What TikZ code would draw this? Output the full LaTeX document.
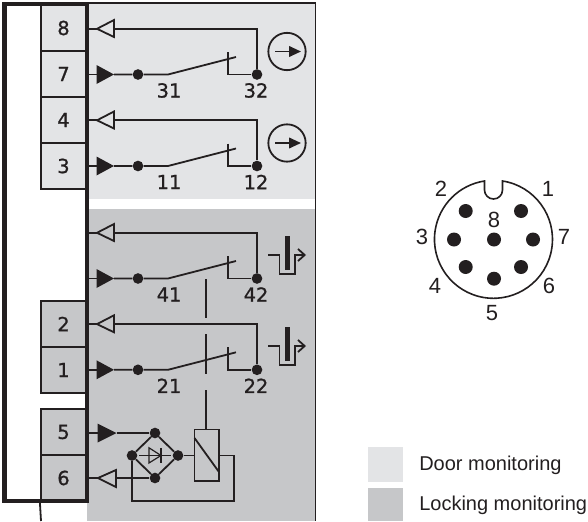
\documentclass[tikz,border=0pt]{standalone}
\usepackage{fontspec}
\setmainfont{Liberation Sans}
\newfontfamily\numfont[FakeBold=1]{DejaVu Sans}
\usetikzlibrary{arrows.meta}
\definecolor{inkc}{HTML}{231F20}
\definecolor{doorc}{HTML}{E3E4E6}
\definecolor{lockc}{HTML}{C6C7C9}
\tikzset{
  wire/.style={draw=inkc,line width=1.35pt},
  frameline/.style={draw=inkc,line width=3.5pt,line join=miter},
  terminal/.style={draw=inkc,line width=1.35pt,minimum width=34.1pt,minimum height=34.4pt,inner sep=0pt,text=inkc,font=\numfont\fontsize{14.5}{16}\selectfont},
  wiredot/.style={circle,fill=inkc,minimum size=8pt,inner sep=0pt},
  pindot/.style={circle,fill=inkc,minimum size=10.5pt,inner sep=0pt},
  contactlabel/.style={text=inkc,inner sep=0pt,font=\numfont\fontsize{14.5}{16}\selectfont},
  pinlabel/.style={text=inkc,inner sep=0pt,font=\fontsize{16.5}{18}\selectfont},
  legendlabel/.style={text=inkc,anchor=west,inner sep=0pt,font=\fontsize{15}{18}\selectfont},
  dirring/.style={circle,draw=inkc,line width=1.35pt,minimum size=28pt,inner sep=0pt}
}
\begin{document}
\begin{tikzpicture}[x=0.75pt,y=0.75pt,yscale=-1,xscale=1]
\useasboundingbox (0,0) rectangle (588,521);

% Panels
\fill[doorc] (87,3) rectangle (315.5,199);
\fill[lockc] (87,209) rectangle (315.5,521);
\draw[wire] (87,3) -- (315.5,3) -- (315.5,521);

% Terminals
\node[terminal,fill=doorc] (t8) at (63.5,28) {8};
\node[terminal,fill=doorc] (t7) at (63.5,74) {7};
\node[terminal,fill=doorc] (t4) at (63.5,120) {4};
\node[terminal,fill=doorc] (t3) at (63.5,166) {3};
\node[terminal,fill=lockc] (t2) at (63.5,324) {2};
\node[terminal,fill=lockc] (t1) at (63.5,370) {1};
\node[terminal,fill=lockc] (t5) at (63.5,432) {5};
\node[terminal,fill=lockc] (t6) at (63.5,478) {6};
\coordinate (tailend) at (41,521);
\draw[wire] (t6.south west) -- (tailend);

% Contacts
\foreach \dy/\cn/\lo/\hi in {0/a/31/32,91.5/b/11/12,204/c/41/42,295.3/d/21/22} {
\begin{scope}[shift={(0,\dy)}]
\coordinate (\cn back) at (88,28.8);
\coordinate (\cn tip) at (97,28.8);
\coordinate (\cn base) at (114,28.8);
\coordinate (\cn corner) at (257,28.8);
\coordinate (\cn in) at (88,74.5);
\coordinate (\cn fbase) at (96.5,74.5);
\coordinate (\cn ftip) at (114,74.5);
\coordinate (\cn pivot) at (168,74.5);
\coordinate (\cn blade) at (236,57);
\coordinate (\cn tick) at (228,52);
\coordinate (\cn foot) at (228,74.5);
\node[wiredot] (\cn left) at (138,74.5) {};
\node[wiredot] (\cn right) at (257,74.5) {};
\draw[wire] (\cn back) -- (\cn tip);
\draw[wire,line join=miter] (\cn tip) -- (114,20) -- (114,37) -- cycle;
\draw[wire] (\cn base) -- (\cn corner) -- (\cn right);
\draw[wire] (\cn in) -- (\cn fbase);
\fill[inkc] (96.5,65) -- (\cn ftip) -- (96.5,84) -- cycle;
\draw[wire] (\cn ftip) -- (\cn left) -- (\cn pivot) -- (\cn blade);
\draw[wire] (\cn tick) -- (\cn foot) -- (\cn right);
\node[contactlabel] (\cn lo) at (169,90.5) {\lo};
\node[contactlabel] (\cn hi) at (256,90.5) {\hi};
\end{scope}
}

% Door symbols
\foreach \yy/\cn in {51.5/a,143/b} {
\node[dirring] (\cn ring) at (287,\yy) {};
\draw[wire,-{Triangle[length=9pt,width=8pt]}] (275,\yy) -- (301,\yy);
}

% Locking symbols
\foreach \dy/\cn in {0/c,91/d} {
\begin{scope}[shift={(0,\dy)}]
\draw[inkc,line width=3.2pt] (287.5,236) -- (287.5,270);
\draw[wire,line join=miter,-{Straight Barb[length=5pt,width=9pt]}] (268,255) -- (279.5,255) -- (279.5,274) -- (295,274) -- (295,255) -- (306,255);
\end{scope}
}

% Coil and bridge
\node[wiredot] (br top) at (155,433) {};
\node[wiredot] (br left) at (132,455.5) {};
\node[wiredot] (br right) at (178,455.5) {};
\node[wiredot] (br bot) at (155,478) {};
\draw[wire] (br top) -- (br right) -- (br bot) -- (br left) -- (br top);
\coordinate (di a) at (139,455.5);
\coordinate (di b) at (171,455.5);
\draw[inkc,line width=0.9pt] (di a) -- (di b);
\draw[inkc,line width=0.9pt,line join=miter] (149,447.8) -- (161,455.5) -- (149,463) -- cycle;
\draw[inkc,line width=0.9pt] (161,447.8) -- (161,463);
\coordinate (coil tl) at (194.5,429.5);
\coordinate (coil br) at (219,481);
\draw[wire] (coil tl) rectangle (coil br);
\draw[wire] (194.5,438) -- (219,472);
\coordinate (five in) at (88,433);
\coordinate (five base) at (97.5,433);
\coordinate (five tip) at (116.5,433);
\draw[wire] (five in) -- (five base);
\fill[inkc] (97.5,423.5) -- (five tip) -- (97.5,442.5) -- cycle;
\draw[wire] (five tip) -- (br top);
\coordinate (six in) at (88,478);
\coordinate (six tip) at (98,478);
\coordinate (six base) at (116,478);
\draw[wire] (six in) -- (six tip);
\draw[wire,line join=miter] (six tip) -- (116,470) -- (116,487) -- cycle;
\draw[wire] (six base) -- (br bot);
\draw[wire] (br right) -- (194.5,455.5);
\draw[wire,line join=miter] (219,455.5) -- (234,455.5) -- (234,501) -- (132,501) -- (br left);

% Mechanical link
\draw[wire] (206,279) -- (206,318);
\draw[wire] (206,334) -- (206,374);
\draw[wire] (206,390) -- (206,429.5);

% Outer frame
\draw[frameline] (4.5,4) rectangle (87,501);

% Connector face
\draw[inkc,line width=1.2pt] (502.5,181) arc[start angle=-81.2,end angle=261.2,radius=59] -- (484.5,190) arc[start angle=180,end angle=0,radius=9] -- cycle;
\foreach \px/\py/\pn in {465.7/211/p2,521/211/p1,454/239.5/p3,494/239.5/p8,533/239.5/p7,465.7/267/p4,521/267/p6,494/278.7/p5} {
\node[pindot] (\pn) at (\px,\py) {};
}
\node[pinlabel] (n2) at (441,189) {2};
\node[pinlabel] (n1) at (548,189) {1};
\node[pinlabel] (n8) at (494,220) {8};
\node[pinlabel] (n3) at (422,237) {3};
\node[pinlabel] (n7) at (564,237) {7};
\node[pinlabel] (n4) at (435,286) {4};
\node[pinlabel] (n6) at (549,286) {6};
\node[pinlabel] (n5) at (492,313) {5};

% Legend
\fill[doorc] (368,447) rectangle (403,482);
\fill[lockc] (368,488) rectangle (403,521);
\node[legendlabel] (doorlabel) at (419,465) {Door monitoring};
\node[legendlabel] (locklabel) at (419,505) {Locking monitoring};

\end{tikzpicture}
\end{document}
